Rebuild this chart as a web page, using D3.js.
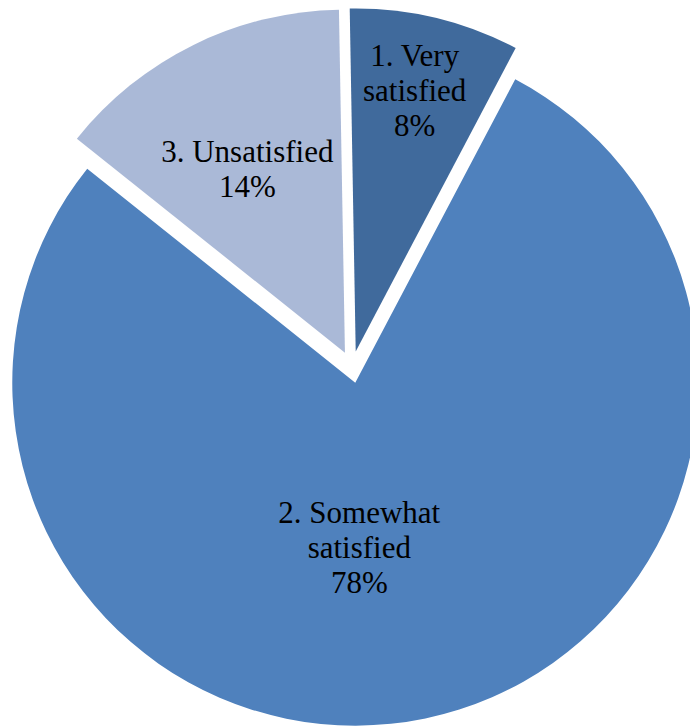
<!DOCTYPE html>
<html>
<head>
<meta charset="utf-8">
<script src="https://cdn.jsdelivr.net/npm/d3@7"></script>
<style>
  html, body { margin: 0; padding: 0; background: #ffffff; }
  svg { display: block; }
</style>
</head>
<body>
<svg id="chart" width="690" height="728"></svg>
<script>
// Satisfaction survey results
const categories = ["1. Very satisfied", "2. Somewhat satisfied", "3. Unsatisfied"];
const labelLines = [["1. Very", "satisfied"], ["2. Somewhat", "satisfied"], ["3. Unsatisfied"]];
const values = [8, 78, 14];
const percentLabels = ["8%", "78%", "14%"];
const colors = ["#406A9C", "#4F81BD", "#AAB9D7"];

// Layout
const width = 690, height = 728;
const cx = 352, cy = 367;          // pie centre
const radius = 343;
const explode = 16;                // every slice is pulled out along its bisector
const fontSize = 31, lineStep = 35;
// label distance from the slice tip (fraction of radius) and a small nudge
const labelRadius = [0.78, 0.485, 0.605];
const labelNudge = [[-3, -1], [-30, 2], [-6, 2]];

const svg = d3.select("#chart");

const pie = d3.pie()
  .value(d => d)
  .sort(null)
  .startAngle(-Math.PI / 180)
  .endAngle(2 * Math.PI - Math.PI / 180);

const arcs = pie(values);
const arc = d3.arc().innerRadius(0).outerRadius(radius);

const g = svg.append("g").attr("transform", `translate(${cx},${cy})`);

const slice = g.selectAll("g.slice")
  .data(arcs)
  .join("g")
  .attr("class", "slice")
  .attr("transform", d => {
    const mid = (d.startAngle + d.endAngle) / 2;
    return `translate(${explode * Math.sin(mid)},${-explode * Math.cos(mid)})`;
  });

slice.append("path")
  .attr("d", arc)
  .attr("fill", (d, i) => colors[i]);

slice.each(function (d, i) {
  const mid = (d.startAngle + d.endAngle) / 2;
  const r = labelRadius[i] * radius;
  const x = r * Math.sin(mid) + labelNudge[i][0];
  const y = -r * Math.cos(mid) + labelNudge[i][1];
  const lines = labelLines[i].concat([percentLabels[i]]);
  const t = d3.select(this).append("text")
    .attr("text-anchor", "middle")
    .attr("font-family", "'Liberation Serif', 'Times New Roman', serif")
    .attr("font-size", fontSize)
    .attr("fill", "#000000");
  lines.forEach((ln, k) => {
    t.append("tspan")
      .attr("x", x)
      .attr("y", y + (k - (lines.length - 1) / 2) * lineStep + fontSize * 0.34)
      .text(ln);
  });
});
</script>
</body>
</html>
